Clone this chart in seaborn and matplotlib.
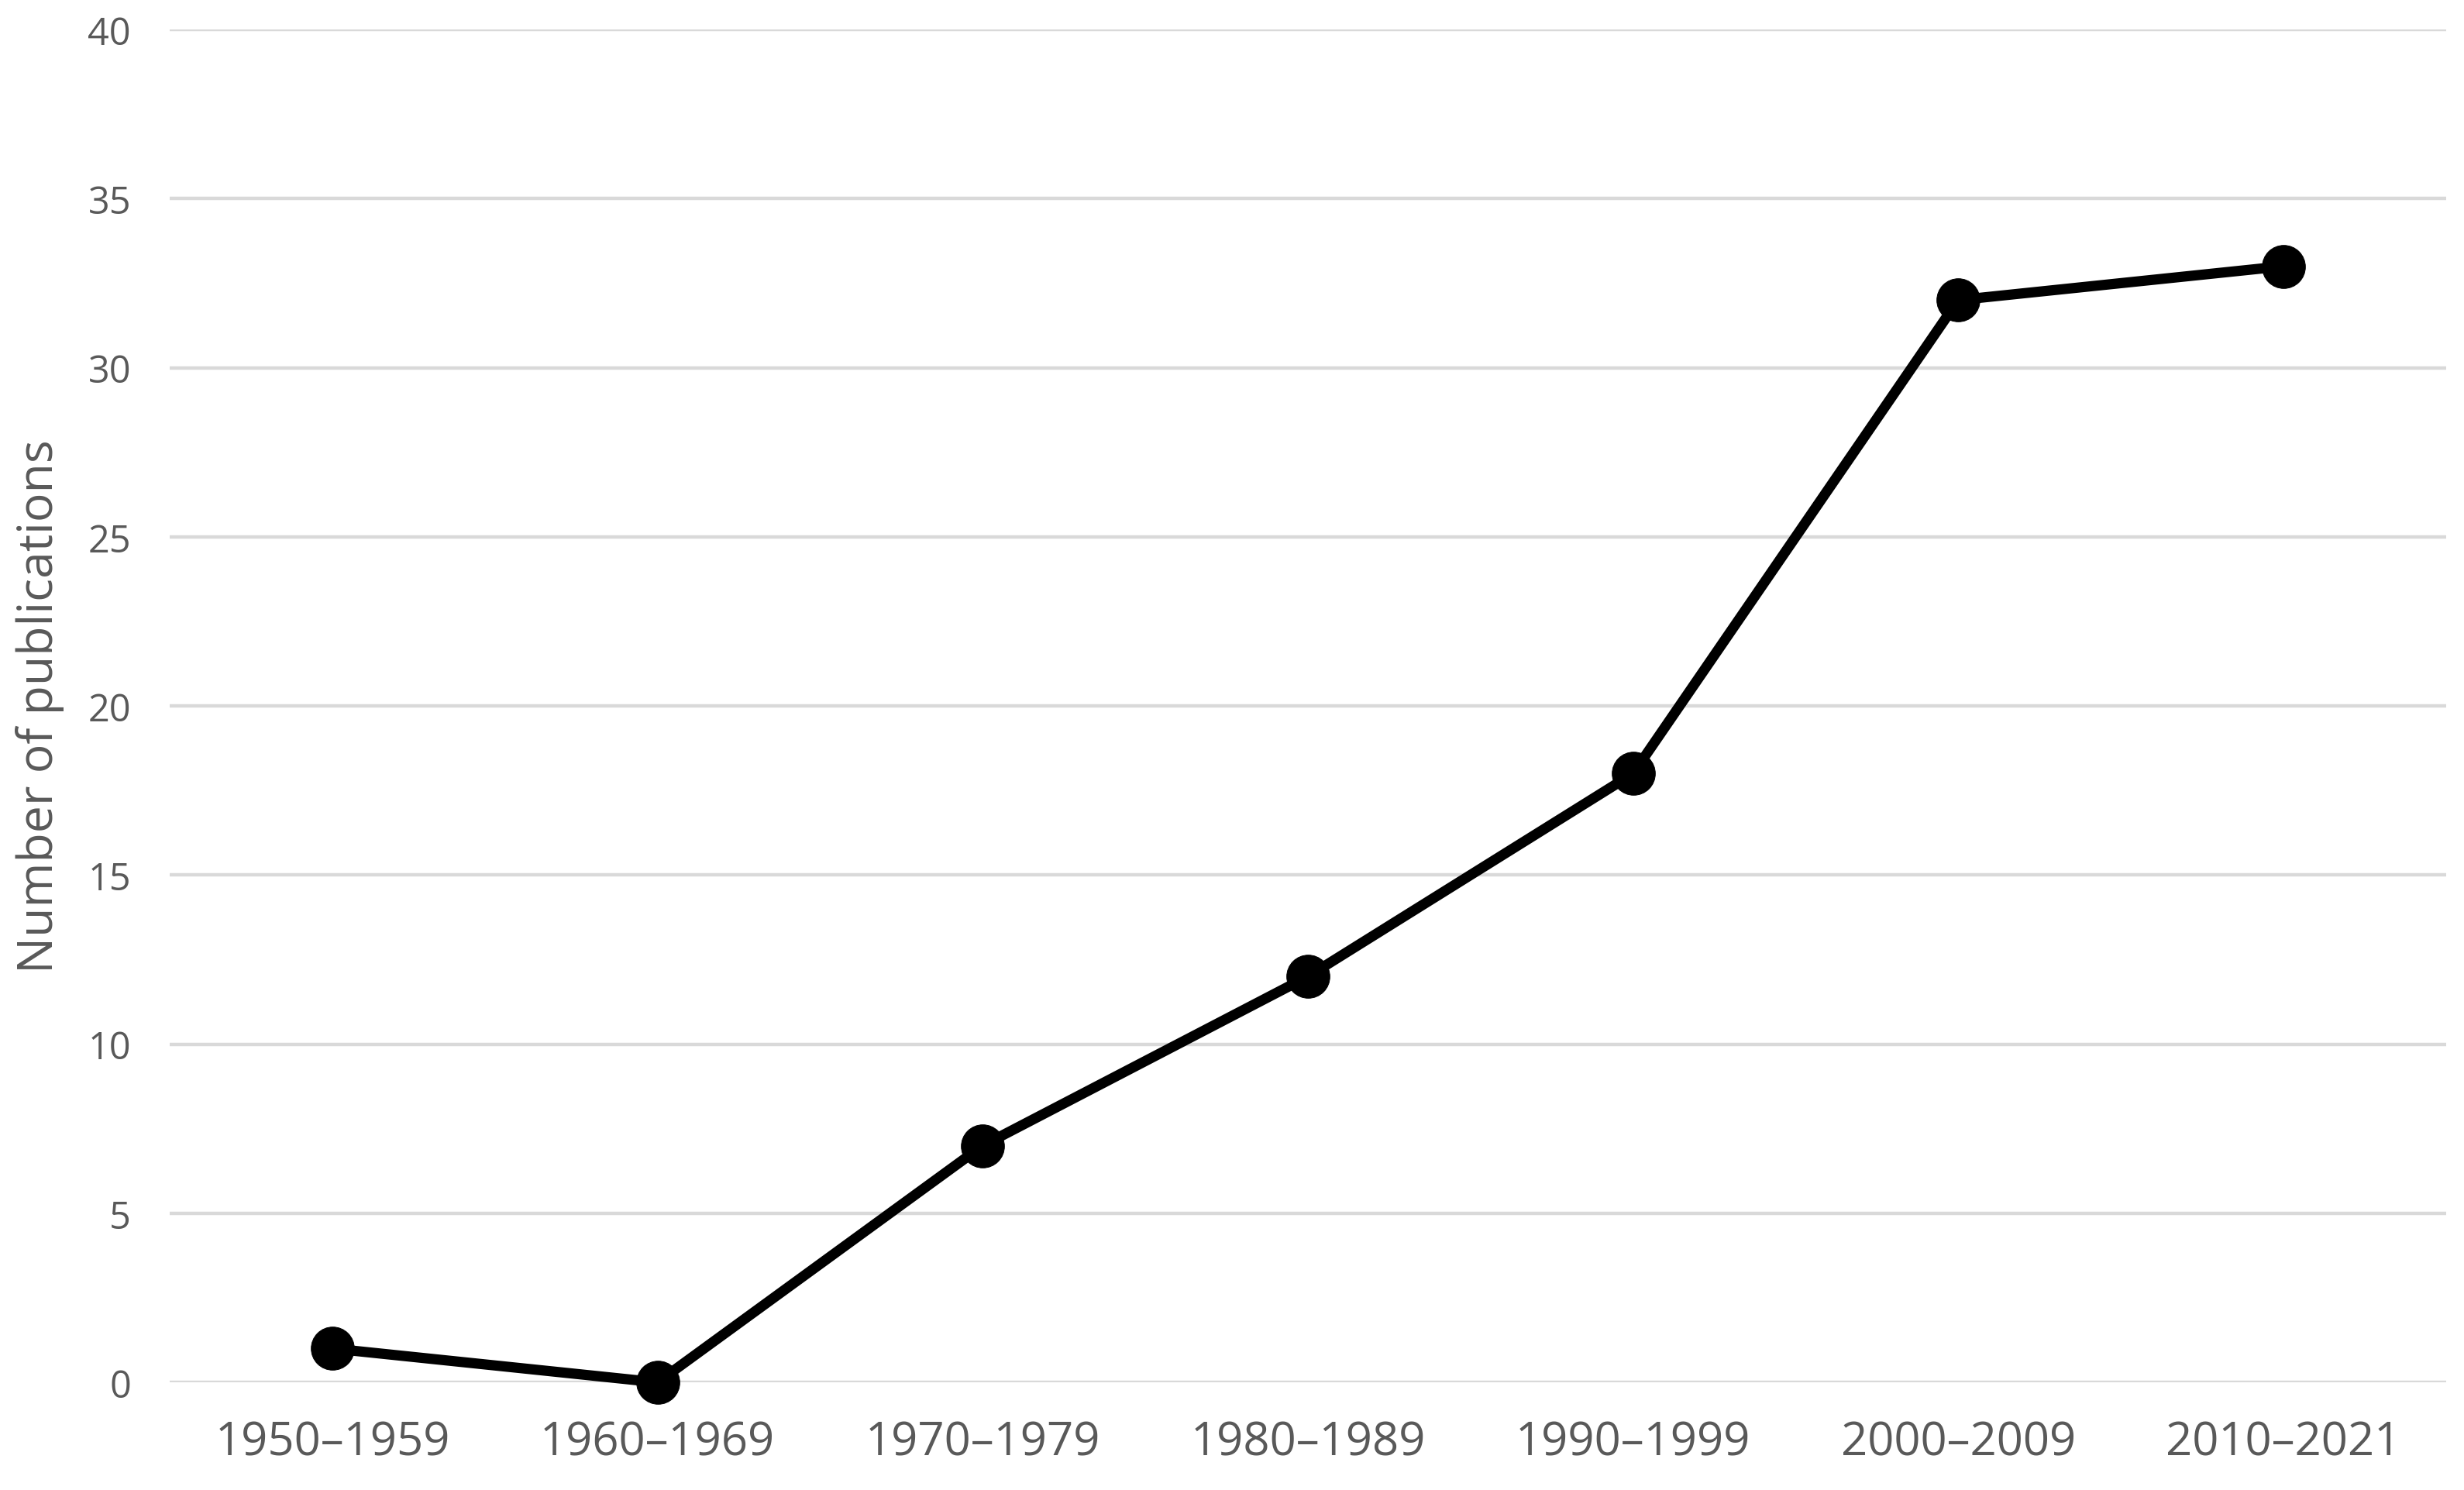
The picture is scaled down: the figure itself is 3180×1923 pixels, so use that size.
"""
Publications per decade line chart -> out.png
"""

import matplotlib
matplotlib.use("Agg")
import matplotlib.pyplot as plt
import pandas as pd
import seaborn as sns

# ── Data ──────────────────────────────────────────────────────────────────────
periods = ["1950–1959", "1960–1969", "1970–1979", "1980–1989",
           "1990–1999", "2000–2009", "2010–2021"]
publications = [1, 0, 7, 12, 18, 32, 33]
y_ticks = [0, 5, 10, 15, 20, 25, 30, 35, 40]

df = pd.DataFrame({"period": periods, "count": publications})

sns.set_style("white")
plt.rcParams["font.family"] = ["Open Sans", "DejaVu Sans"]

TEXT = "#595959"
GRID = "#d9d9d9"

fig = plt.figure(figsize=(31.8, 19.24), dpi=100)
ax = fig.add_axes([0.0689, 0.0722, 0.9238, 0.9075])

sns.lineplot(data=df, x="period", y="count", ax=ax, sort=False,
             color="black", linewidth=9.5, marker="o", markersize=40,
             markeredgecolor="black", zorder=3, clip_on=False)

ax.set_xlim(-0.5, len(periods) - 0.5)
ax.set_ylim(0, 40)
ax.set_yticks(y_ticks)
ax.yaxis.grid(True, color=GRID, linewidth=3.2)
ax.set_axisbelow(True)
for s in ax.spines.values():
    s.set_visible(False)

ax.tick_params(axis="x", length=0, pad=34, labelsize=43, labelcolor=TEXT)
ax.tick_params(axis="y", length=0, pad=36, labelsize=35, labelcolor=TEXT)
ax.set_xlabel("")
ax.set_ylabel("Number of publications", fontsize=45, color=TEXT, labelpad=22)

fig.savefig("out.png", dpi=100)
